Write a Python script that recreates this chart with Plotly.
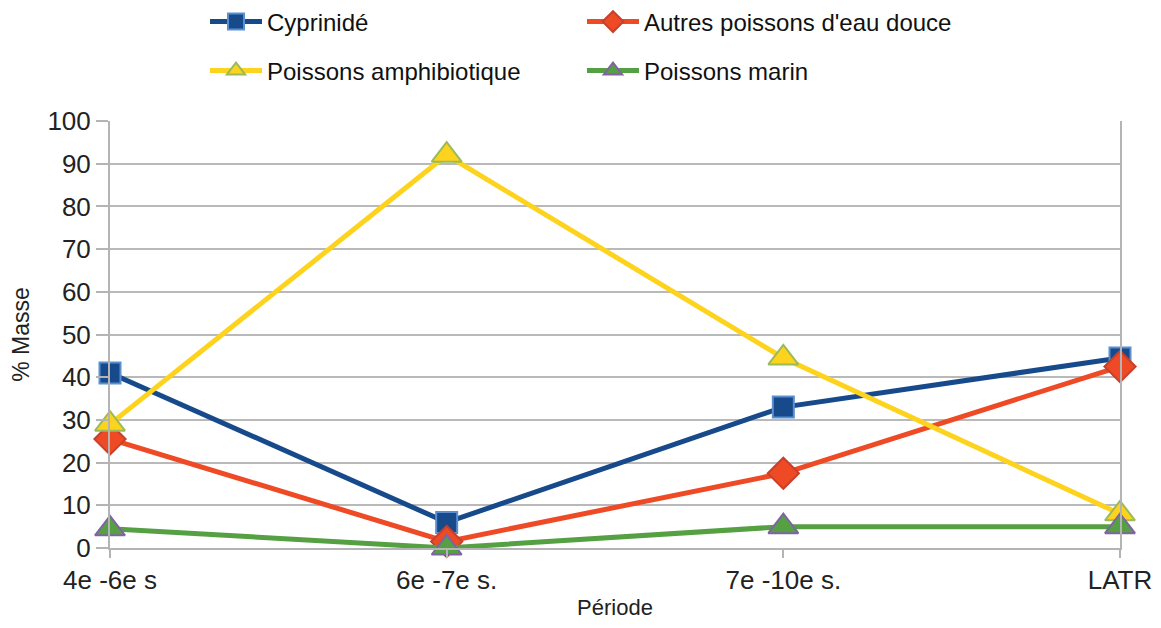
import plotly.graph_objects as go

periodes = ["4e -6e s", "6e -7e s.", "7e -10e s.", "LATR"]
cyprinide = [41, 6, 33, 44.5]
autres = [25.5, 1.5, 17.5, 42.5]
amphibiotique = [29, 92, 44.5, 8]
marin = [4.5, 0, 5, 5]

series = [
    ("Cyprinidé", cyprinide, "#174A8B", "square", "#174A8B", "#5B8FCF", 21, "legend"),
    ("Autres poissons d'eau douce", autres, "#EE4A26", "diamond", "#EE4A26", "#C8402A", 24, "legend"),
    ("Poissons amphibiotique", amphibiotique, "#FDD31D", "triangle-up", "#FDD31D", "#9BBB59", 26, "legend2"),
    ("Poissons marin", marin, "#55A043", "triangle-up", "#55A043", "#8064A2", 26, "legend2"),
]

fig = go.Figure()
for name, vals, lc, sym, fc, bc, sz, lg in series:
    fig.add_trace(go.Scatter(
        x=periodes, y=vals, name=name, mode="lines+markers",
        line=dict(color=lc, width=5),
        marker=dict(symbol=sym, size=sz, color=fc, line=dict(color=bc, width=2)),
        cliponaxis=False, legend=lg,
    ))

W, H = 1145, 612
legfont = dict(family="Liberation Sans, Arial", size=24, color="#111")
legcommon = dict(orientation="h", xref="container", yref="container",
                 x=197 / W, xanchor="left", yanchor="middle",
                 entrywidth=310, entrywidthmode="pixels", font=legfont,
                 bgcolor="rgba(0,0,0,0)", itemwidth=52)
fig.update_layout(
    width=W, height=H,
    paper_bgcolor="white", plot_bgcolor="white",
    margin=dict(l=102, r=33, t=113, b=72, autoexpand=False),
    font=dict(family="Liberation Sans, Arial", size=26, color="#222"),
    legend=dict(legcommon, y=1 - 14 / H),
    legend2=dict(legcommon, y=1 - 63 / H),
    xaxis=dict(
        type="category", range=[0, 3], automargin=False,
        showgrid=False, showline=True, linecolor="#B4B4B4", linewidth=2,
        ticks="outside", ticklen=8, tickcolor="#B4B4B4", tickwidth=2,
        tickfont=dict(size=26, color="#222"),
        title=dict(text="Période", font=dict(size=22, color="#222"), standoff=6),
    ),
    yaxis=dict(
        range=[0, 100], dtick=10, automargin=False,
        showgrid=True, gridcolor="#B9B9B9", gridwidth=2,
        showline=True, mirror=True, linecolor="#B4B4B4", linewidth=2,
        ticks="outside", ticklen=12, tickcolor="#B4B4B4", tickwidth=2,
        tickfont=dict(size=26, color="#222"),
        title=dict(text="% Masse", font=dict(size=23, color="#222"), standoff=14),
        zeroline=False,
    ),
)

fig.write_html("out.html")
